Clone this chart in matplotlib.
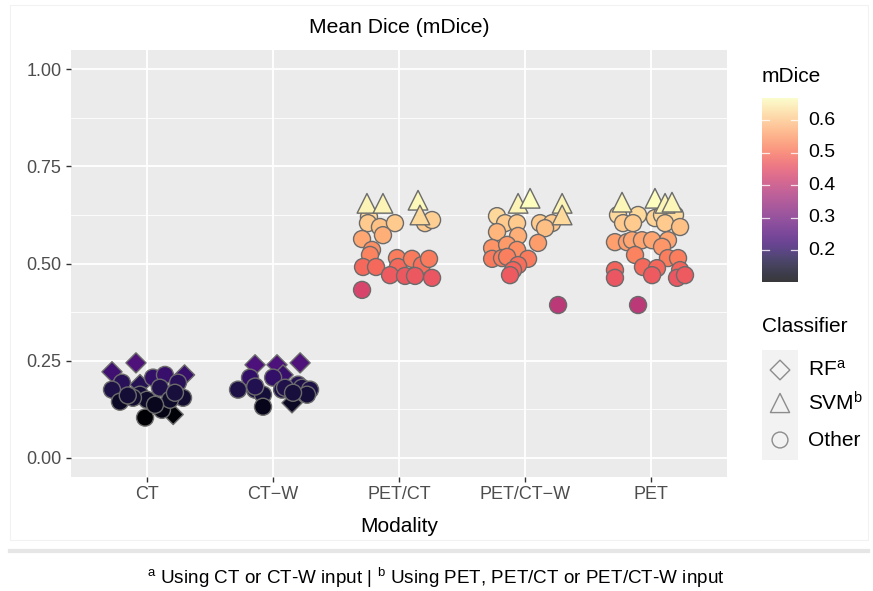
import numpy as np
import matplotlib
matplotlib.use("Agg")
import matplotlib.pyplot as plt
from matplotlib import colors
from matplotlib.patches import Rectangle
from matplotlib.lines import Line2D

plt.rcParams['font.family'] = ['Liberation Sans', 'DejaVu Sans']
plt.rcParams['mathtext.fontset'] = 'custom'
plt.rcParams['mathtext.rm'] = 'Liberation Sans'
plt.rcParams['mathtext.it'] = 'Liberation Sans:italic'

# ---------------- data ----------------
modalities = ["CT", "CT\u2212W", "PET/CT", "PET/CT\u2212W", "PET"]

# RF (diamonds)
ct_rf_val = [0.221, 0.244, 0.213, 0.188, 0.111]
ct_rf_jit = [-0.275, -0.085, 0.30, -0.053, 0.21]
ctw_rf_val = [0.239, 0.239, 0.244, 0.141, 0.213]
ctw_rf_jit = [-0.141, 0.033, 0.216, 0.152, 0.081]

# SVM (triangles)
petct_svm_val = [0.655, 0.655, 0.663, 0.625]
petct_svm_jit = [-0.254, -0.127, 0.151, 0.166]
petctw_svm_val = [0.655, 0.668, 0.655, 0.625]
petctw_svm_jit = [-0.056, 0.039, 0.293, 0.293]
pet_svm_val = [0.658, 0.668, 0.655, 0.658]
pet_svm_jit = [-0.232, 0.029, 0.109, 0.164]

# Other (circles)
ct_oth_val = [0.193, 0.175, 0.144, 0.162, 0.206, 0.213, 0.193, 0.154, 0.180,
              0.149, 0.123, 0.103, 0.149, 0.154, 0.136, 0.167, 0.160]
ct_oth_jit = [-0.196, -0.275, -0.212, -0.053, 0.05, 0.145, 0.248, 0.288, 0.105,
              0.002, 0.121, -0.013, 0.185, -0.109, 0.066, 0.224, -0.15]
ctw_oth_val = [0.206, 0.175, 0.175, 0.162, 0.131, 0.206, 0.175, 0.175, 0.188,
               0.180, 0.175, 0.180, 0.162, 0.167, 0.183]
ctw_oth_jit = [-0.181, -0.276, -0.141, -0.078, -0.078, 0.002, 0.073, 0.136, 0.20,
               0.231, 0.295, 0.097, 0.271, 0.16, -0.14]
petct_oth_val = [0.620, 0.604, 0.594, 0.604, 0.573, 0.604, 0.612, 0.563, 0.535,
                 0.522, 0.491, 0.491, 0.514, 0.491, 0.512, 0.496, 0.512, 0.470,
                 0.468, 0.468, 0.463, 0.432]
petct_oth_jit = [-0.238, -0.246, -0.151, -0.032, -0.127, 0.206, 0.262, -0.293, -0.214,
                 -0.23, -0.285, -0.182, -0.016, -0.008, 0.103, 0.182, 0.238, -0.071,
                 0.048, 0.127, 0.262, -0.293]
petctw_oth_val = [0.622, 0.604, 0.604, 0.581, 0.571, 0.604, 0.604, 0.591, 0.553,
                  0.540, 0.548, 0.535, 0.512, 0.514, 0.517, 0.512, 0.496, 0.483,
                  0.470, 0.393]
petctw_oth_jit = [-0.223, -0.159, -0.064, -0.223, -0.056, 0.118, 0.213, 0.158, 0.102,
                  -0.262, -0.143, -0.064, -0.262, -0.183, -0.143, 0.023, -0.056, -0.096,
                  -0.12, 0.261]
pet_oth_val = [0.625, 0.625, 0.604, 0.604, 0.617, 0.625, 0.625, 0.604, 0.594,
               0.555, 0.555, 0.560, 0.560, 0.560, 0.560, 0.543, 0.522, 0.514,
               0.514, 0.491, 0.488, 0.483, 0.463, 0.470, 0.483, 0.463, 0.470, 0.393]
pet_oth_jit = [-0.264, -0.105, -0.224, -0.145, 0.029, 0.085, 0.188, 0.109, 0.228,
               -0.288, -0.193, -0.153, -0.074, 0.006, 0.132, 0.085, -0.129, 0.132,
               0.212, -0.066, 0.045, -0.288, -0.288, 0.006, 0.228, 0.204, 0.267, -0.105]

y_ticks = [0.00, 0.25, 0.50, 0.75, 1.00]
cb_ticks = [0.2, 0.3, 0.4, 0.5, 0.6]

# ---------------- figure ----------------
W, H = 873, 591
fig = plt.figure(figsize=(W / 100, H / 100), dpi=100)

def fx(px):
    return px / W

def fy(py):
    return 1 - py / H

# outer faint frame & separator
fig.add_artist(Rectangle((fx(10), fy(540)), fx(858), 535 / H, transform=fig.transFigure,
                         fill=False, edgecolor='#F2F2F2', linewidth=0.8))
fig.add_artist(Line2D([fx(10), fx(868)], [fy(551), fy(551)], transform=fig.transFigure,
                      color='#E6E6E6', linewidth=3.0))

ax = fig.add_axes([fx(71), fy(477), fx(727) - fx(71), fy(50) - fy(477)])
ax.set_facecolor('#EBEBEB')
for s in ax.spines.values():
    s.set_visible(False)

ax.set_xlim(0.4, 5.6)
ax.set_ylim(-0.05, 1.05)

for yv in [0.125, 0.375, 0.625, 0.875]:
    ax.axhline(yv, color='white', linewidth=0.6, zorder=0)
for yv in y_ticks:
    ax.axhline(yv, color='white', linewidth=1.3, zorder=0)
for xv in range(1, 6):
    ax.axvline(xv, color='white', linewidth=1.3, zorder=0)

ax.set_yticks(y_ticks)
ax.set_yticklabels([f"{v:.2f}" for v in y_ticks])
ax.set_xticks(range(1, 6))
ax.set_xticklabels(modalities)
ax.tick_params(axis='both', colors='#333333', labelcolor='#4D4D4D', labelsize=13,
               length=3.5, width=1.0)
ax.tick_params(axis='x', pad=3)
ax.set_xlabel("Modality", fontsize=15, color='black', labelpad=10)
ax.set_title("Mean Dice (mDice)", fontsize=15.2, color='black', pad=12)

all_vals = (ct_rf_val + ctw_rf_val + petct_svm_val + petctw_svm_val + pet_svm_val +
            ct_oth_val + ctw_oth_val + petct_oth_val + petctw_oth_val + pet_oth_val)
vmin, vmax = min(all_vals), max(all_vals)
norm = colors.Normalize(vmin=vmin, vmax=vmax)
cmap = plt.get_cmap('magma')

edge = '#6B6B6B'
ALPHA = 1.0

def draw(group_idx, vals, jit, marker, size, z):
    x = np.array(jit) + group_idx + 1
    ax.scatter(x, vals, c=vals, cmap=cmap, norm=norm, marker=marker, s=size,
               edgecolors=edge, linewidths=1.0, alpha=ALPHA, zorder=z)

CIRC, TRI, DIA = 150, 200, 105
draw(0, ct_oth_val, ct_oth_jit, 'o', CIRC, 3)
draw(1, ctw_oth_val, ctw_oth_jit, 'o', CIRC, 3)
draw(2, petct_oth_val, petct_oth_jit, 'o', CIRC, 3)
draw(3, petctw_oth_val, petctw_oth_jit, 'o', CIRC, 3)
draw(4, pet_oth_val, pet_oth_jit, 'o', CIRC, 3)
draw(0, ct_rf_val, ct_rf_jit, 'D', DIA, 2)
draw(1, ctw_rf_val, ctw_rf_jit, 'D', DIA, 2)
draw(2, petct_svm_val, petct_svm_jit, '^', TRI, 4)
draw(3, petctw_svm_val, petctw_svm_jit, '^', TRI, 4)
draw(4, pet_svm_val, pet_svm_jit, '^', TRI, 4)

# ---------------- colorbar ----------------
fig.text(fx(762), fy(77), "mDice", fontsize=15, va='center', ha='left', color='black')
cax = fig.add_axes([fx(762), fy(282), fx(798) - fx(762), fy(98) - fy(282)])
grad = np.linspace(vmin, vmax, 256).reshape(-1, 1)
cax.imshow(grad, aspect='auto', cmap=cmap, norm=norm, origin='lower',
           extent=[0, 1, vmin, vmax], alpha=0.78)
cax.set_xlim(0, 1)
cax.set_ylim(vmin, vmax)
for s in cax.spines.values():
    s.set_visible(False)
cax.set_xticks([])
cax.set_yticks([])
for t in cb_ticks:
    cax.plot([0, 0.2], [t, t], color='white', linewidth=0.9, alpha=0.8)
    cax.plot([0.8, 1.0], [t, t], color='white', linewidth=0.9, alpha=0.8)
    py = 98 + (vmax - t) / (vmax - vmin) * 184
    fig.text(fx(808), fy(py), f"{t:.1f}", fontsize=14, va='center', ha='left', color='black')

# ---------------- shape legend ----------------
fig.text(fx(762), fy(327), "Classifier", fontsize=15, va='center', ha='left', color='black')
lax = fig.add_axes([fx(762), fy(460), fx(798) - fx(762), fy(350) - fy(460)])
lax.set_facecolor('#F2F2F2')
for s in lax.spines.values():
    s.set_visible(False)
lax.set_xticks([])
lax.set_yticks([])
lax.set_xlim(0, 1)
lax.set_ylim(460, 350)
legend_rows = [(370, 'D', 100, r"RF$\mathregular{^a}$"),
               (403, '^', 190, r"SVM$\mathregular{^b}$"),
               (440, 'o', 130, "Other")]
for py, mk, sz, lab in legend_rows:
    lax.scatter([0.5], [py], marker=mk, s=sz, facecolors='none', edgecolors='#8C8C8C',
                linewidths=1.0)
    fig.text(fx(808), fy(py), lab, fontsize=15, va='center', ha='left', color='black')

# ---------------- footnote ----------------
fig.text(fx(436), fy(578),
         r"$\mathregular{^a}$ Using CT or CT-W input | $\mathregular{^b}$ Using PET, PET/CT or PET/CT-W input",
         fontsize=13.6, ha='center', va='center', color='black')

fig.savefig("out.png", dpi=100, facecolor='white')
